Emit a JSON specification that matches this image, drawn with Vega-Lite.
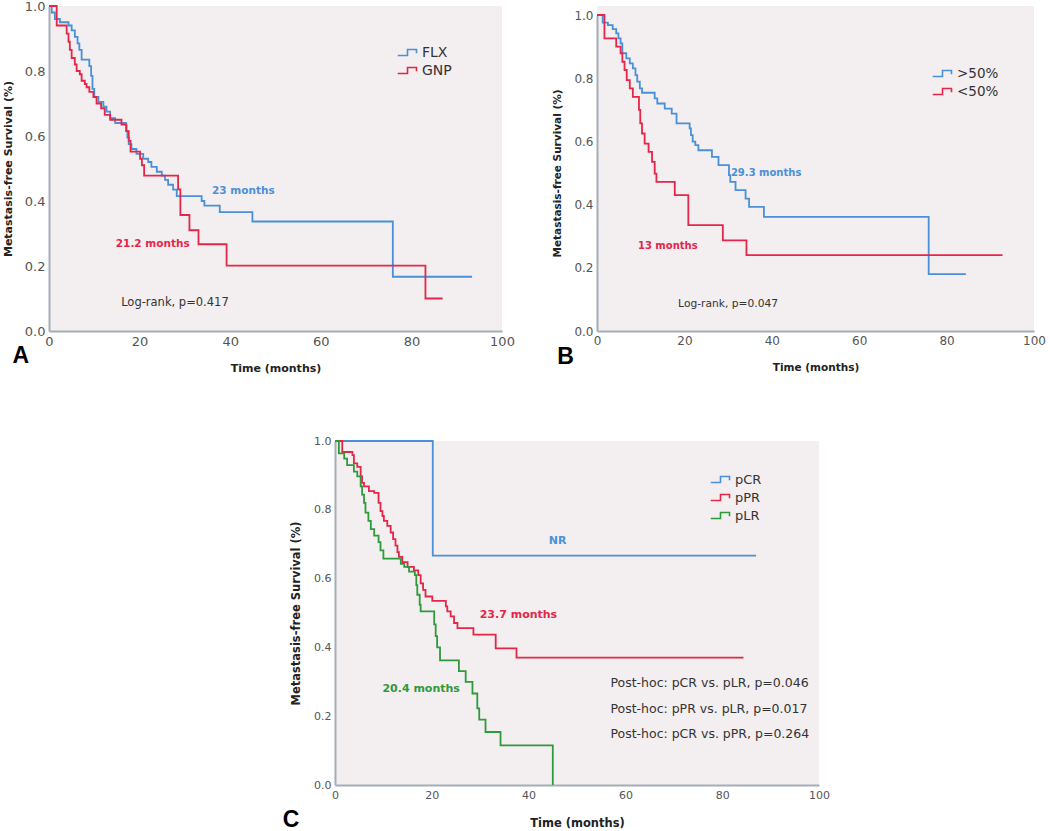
{
  "$schema": "https://vega.github.io/schema/vega-lite/v6.json",
  "padding": {"left": 2, "top": 0, "right": 0, "bottom": 0},
  "background": "white",
  "config": {
    "view": {"stroke": null},
    "axis": {"grid": false, "ticks": false, "domainColor": "#a4aeb8", "domainWidth": 2, "labelFont": "DejaVu Sans", "labelColor": "#555555", "labelFlush": false, "labelOverlap": false, "labelPadding": 4, "titleFont": "DejaVu Sans", "titleFontWeight": "bold", "titleColor": "#222222"},
    "legend": {"title": null, "orient": "none", "padding": 0, "symbolType": "M-1.3,0.4H0V-0.4H1.2V0.1", "symbolSize": 225, "symbolStrokeWidth": 1.6, "labelFont": "DejaVu Sans", "labelColor": "#333333", "labelOffset": 6, "rowPadding": 2}
  },
  "datasets": {
    "curves": [
      {"panel":"A","group":"FLX","t":0,"s":1},{"panel":"A","group":"FLX","t":0.6,"s":0.98},{"panel":"A","group":"FLX","t":1.3,"s":0.96},{"panel":"A","group":"FLX","t":2.4,"s":0.95},{"panel":"A","group":"FLX","t":4.3,"s":0.94},{"panel":"A","group":"FLX","t":5.0,"s":0.925},{"panel":"A","group":"FLX","t":5.7,"s":0.905},{"panel":"A","group":"FLX","t":6.3,"s":0.885},{"panel":"A","group":"FLX","t":6.7,"s":0.865},{"panel":"A","group":"FLX","t":7.2,"s":0.835},{"panel":"A","group":"FLX","t":8.9,"s":0.815},{"panel":"A","group":"FLX","t":9.3,"s":0.785},{"panel":"A","group":"FLX","t":9.6,"s":0.745},{"panel":"A","group":"FLX","t":10.0,"s":0.72},{"panel":"A","group":"FLX","t":10.9,"s":0.705},{"panel":"A","group":"FLX","t":12.0,"s":0.69},{"panel":"A","group":"FLX","t":12.7,"s":0.675},{"panel":"A","group":"FLX","t":13.5,"s":0.655},{"panel":"A","group":"FLX","t":14.6,"s":0.64},{"panel":"A","group":"FLX","t":17.0,"s":0.615},{"panel":"A","group":"FLX","t":17.3,"s":0.595},{"panel":"A","group":"FLX","t":17.6,"s":0.575},{"panel":"A","group":"FLX","t":18.2,"s":0.56},{"panel":"A","group":"FLX","t":19.3,"s":0.545},{"panel":"A","group":"FLX","t":20.8,"s":0.53},{"panel":"A","group":"FLX","t":21.9,"s":0.52},{"panel":"A","group":"FLX","t":22.6,"s":0.505},{"panel":"A","group":"FLX","t":23.8,"s":0.49},{"panel":"A","group":"FLX","t":24.9,"s":0.478},{"panel":"A","group":"FLX","t":25.6,"s":0.465},{"panel":"A","group":"FLX","t":26.3,"s":0.45},{"panel":"A","group":"FLX","t":27.4,"s":0.435},{"panel":"A","group":"FLX","t":28.2,"s":0.415},{"panel":"A","group":"FLX","t":33.7,"s":0.4},{"panel":"A","group":"FLX","t":34.3,"s":0.386},{"panel":"A","group":"FLX","t":37.7,"s":0.366},{"panel":"A","group":"FLX","t":44.9,"s":0.337},{"panel":"A","group":"FLX","t":75.9,"s":0.167},{"panel":"A","group":"FLX","t":93.4,"s":0.167},
      {"panel":"A","group":"GNP","t":0,"s":1},{"panel":"A","group":"GNP","t":1.7,"s":0.94},{"panel":"A","group":"GNP","t":3.9,"s":0.915},{"panel":"A","group":"GNP","t":4.3,"s":0.89},{"panel":"A","group":"GNP","t":4.6,"s":0.865},{"panel":"A","group":"GNP","t":5.0,"s":0.84},{"panel":"A","group":"GNP","t":5.7,"s":0.82},{"panel":"A","group":"GNP","t":6.1,"s":0.8},{"panel":"A","group":"GNP","t":6.8,"s":0.79},{"panel":"A","group":"GNP","t":7.2,"s":0.77},{"panel":"A","group":"GNP","t":7.9,"s":0.76},{"panel":"A","group":"GNP","t":8.3,"s":0.75},{"panel":"A","group":"GNP","t":8.9,"s":0.736},{"panel":"A","group":"GNP","t":9.8,"s":0.72},{"panel":"A","group":"GNP","t":10.5,"s":0.7},{"panel":"A","group":"GNP","t":11.5,"s":0.685},{"panel":"A","group":"GNP","t":12.3,"s":0.665},{"panel":"A","group":"GNP","t":13.5,"s":0.65},{"panel":"A","group":"GNP","t":16.0,"s":0.635},{"panel":"A","group":"GNP","t":17.1,"s":0.615},{"panel":"A","group":"GNP","t":17.6,"s":0.585},{"panel":"A","group":"GNP","t":18.0,"s":0.552},{"panel":"A","group":"GNP","t":20.1,"s":0.53},{"panel":"A","group":"GNP","t":20.5,"s":0.51},{"panel":"A","group":"GNP","t":21.0,"s":0.478},{"panel":"A","group":"GNP","t":28.5,"s":0.436},{"panel":"A","group":"GNP","t":29.0,"s":0.357},{"panel":"A","group":"GNP","t":31.0,"s":0.31},{"panel":"A","group":"GNP","t":33.0,"s":0.267},{"panel":"A","group":"GNP","t":39.2,"s":0.201},{"panel":"A","group":"GNP","t":83.1,"s":0.1},{"panel":"A","group":"GNP","t":86.9,"s":0.1},
      {"panel":"B","group":">50%","t":0,"s":1},{"panel":"B","group":">50%","t":1.3,"s":0.976},{"panel":"B","group":">50%","t":2.5,"s":0.968},{"panel":"B","group":">50%","t":3.6,"s":0.955},{"panel":"B","group":">50%","t":4.4,"s":0.942},{"panel":"B","group":">50%","t":4.9,"s":0.926},{"panel":"B","group":">50%","t":5.4,"s":0.91},{"panel":"B","group":">50%","t":5.8,"s":0.879},{"panel":"B","group":">50%","t":6.7,"s":0.863},{"panel":"B","group":">50%","t":7.5,"s":0.847},{"panel":"B","group":">50%","t":8.2,"s":0.831},{"panel":"B","group":">50%","t":8.8,"s":0.81},{"panel":"B","group":">50%","t":9.2,"s":0.789},{"panel":"B","group":">50%","t":9.8,"s":0.768},{"panel":"B","group":">50%","t":10.3,"s":0.754},{"panel":"B","group":">50%","t":13.2,"s":0.736},{"panel":"B","group":">50%","t":13.8,"s":0.72},{"panel":"B","group":">50%","t":15.5,"s":0.704},{"panel":"B","group":">50%","t":17.1,"s":0.688},{"panel":"B","group":">50%","t":18.2,"s":0.657},{"panel":"B","group":">50%","t":21.2,"s":0.641},{"panel":"B","group":">50%","t":21.5,"s":0.62},{"panel":"B","group":">50%","t":21.9,"s":0.599},{"panel":"B","group":">50%","t":22.5,"s":0.588},{"panel":"B","group":">50%","t":23.2,"s":0.572},{"panel":"B","group":">50%","t":26.3,"s":0.551},{"panel":"B","group":">50%","t":27.8,"s":0.525},{"panel":"B","group":">50%","t":30.2,"s":0.493},{"panel":"B","group":">50%","t":30.5,"s":0.472},{"panel":"B","group":">50%","t":31.7,"s":0.446},{"panel":"B","group":">50%","t":34.0,"s":0.419},{"panel":"B","group":">50%","t":34.8,"s":0.393},{"panel":"B","group":">50%","t":38.2,"s":0.361},{"panel":"B","group":">50%","t":75.9,"s":0.18},{"panel":"B","group":">50%","t":84.4,"s":0.18},
      {"panel":"B","group":"<50%","t":0,"s":1},{"panel":"B","group":"<50%","t":1.7,"s":0.926},{"panel":"B","group":"<50%","t":4.4,"s":0.9},{"panel":"B","group":"<50%","t":5.4,"s":0.879},{"panel":"B","group":"<50%","t":5.8,"s":0.852},{"panel":"B","group":"<50%","t":6.3,"s":0.826},{"panel":"B","group":"<50%","t":6.8,"s":0.794},{"panel":"B","group":"<50%","t":7.5,"s":0.768},{"panel":"B","group":"<50%","t":8.2,"s":0.741},{"panel":"B","group":"<50%","t":9.6,"s":0.7},{"panel":"B","group":"<50%","t":9.9,"s":0.657},{"panel":"B","group":"<50%","t":10.3,"s":0.625},{"panel":"B","group":"<50%","t":10.9,"s":0.593},{"panel":"B","group":"<50%","t":11.8,"s":0.567},{"panel":"B","group":"<50%","t":12.6,"s":0.535},{"panel":"B","group":"<50%","t":13.2,"s":0.498},{"panel":"B","group":"<50%","t":13.6,"s":0.472},{"panel":"B","group":"<50%","t":17.8,"s":0.43},{"panel":"B","group":"<50%","t":20.9,"s":0.335},{"panel":"B","group":"<50%","t":28.8,"s":0.287},{"panel":"B","group":"<50%","t":34.2,"s":0.24},{"panel":"B","group":"<50%","t":92.8,"s":0.24},
      {"panel":"C","group":"pCR","t":0,"s":1},{"panel":"C","group":"pCR","t":20.2,"s":0.667},{"panel":"C","group":"pCR","t":87.0,"s":0.667},
      {"panel":"C","group":"pPR","t":0,"s":1},{"panel":"C","group":"pPR","t":1.5,"s":0.968},{"panel":"C","group":"pPR","t":3.6,"s":0.959},{"panel":"C","group":"pPR","t":3.9,"s":0.935},{"panel":"C","group":"pPR","t":4.6,"s":0.925},{"panel":"C","group":"pPR","t":5.3,"s":0.897},{"panel":"C","group":"pPR","t":5.6,"s":0.878},{"panel":"C","group":"pPR","t":6.0,"s":0.868},{"panel":"C","group":"pPR","t":7.0,"s":0.854},{"panel":"C","group":"pPR","t":8.1,"s":0.849},{"panel":"C","group":"pPR","t":9.0,"s":0.82},{"panel":"C","group":"pPR","t":9.4,"s":0.796},{"panel":"C","group":"pPR","t":9.8,"s":0.782},{"panel":"C","group":"pPR","t":10.1,"s":0.768},{"panel":"C","group":"pPR","t":10.8,"s":0.753},{"panel":"C","group":"pPR","t":11.5,"s":0.734},{"panel":"C","group":"pPR","t":12.0,"s":0.715},{"panel":"C","group":"pPR","t":12.5,"s":0.696},{"panel":"C","group":"pPR","t":12.9,"s":0.677},{"panel":"C","group":"pPR","t":13.2,"s":0.663},{"panel":"C","group":"pPR","t":13.9,"s":0.648},{"panel":"C","group":"pPR","t":15.0,"s":0.634},{"panel":"C","group":"pPR","t":16.3,"s":0.624},{"panel":"C","group":"pPR","t":17.2,"s":0.61},{"panel":"C","group":"pPR","t":17.7,"s":0.586},{"panel":"C","group":"pPR","t":18.2,"s":0.567},{"panel":"C","group":"pPR","t":18.7,"s":0.548},{"panel":"C","group":"pPR","t":20.1,"s":0.535},{"panel":"C","group":"pPR","t":22.9,"s":0.519},{"panel":"C","group":"pPR","t":23.2,"s":0.505},{"panel":"C","group":"pPR","t":23.9,"s":0.49},{"panel":"C","group":"pPR","t":24.6,"s":0.471},{"panel":"C","group":"pPR","t":25.3,"s":0.456},{"panel":"C","group":"pPR","t":28.6,"s":0.437},{"panel":"C","group":"pPR","t":33.2,"s":0.397},{"panel":"C","group":"pPR","t":37.5,"s":0.37},{"panel":"C","group":"pPR","t":84.4,"s":0.37},
      {"panel":"C","group":"pLR","t":0,"s":1},{"panel":"C","group":"pLR","t":0.8,"s":0.964},{"panel":"C","group":"pLR","t":1.9,"s":0.949},{"panel":"C","group":"pLR","t":2.5,"s":0.93},{"panel":"C","group":"pLR","t":3.9,"s":0.911},{"panel":"C","group":"pLR","t":4.6,"s":0.897},{"panel":"C","group":"pLR","t":5.3,"s":0.868},{"panel":"C","group":"pLR","t":5.6,"s":0.844},{"panel":"C","group":"pLR","t":6.0,"s":0.82},{"panel":"C","group":"pLR","t":6.3,"s":0.792},{"panel":"C","group":"pLR","t":6.9,"s":0.768},{"panel":"C","group":"pLR","t":7.4,"s":0.744},{"panel":"C","group":"pLR","t":8.1,"s":0.725},{"panel":"C","group":"pLR","t":9.0,"s":0.706},{"panel":"C","group":"pLR","t":9.4,"s":0.682},{"panel":"C","group":"pLR","t":10.0,"s":0.658},{"panel":"C","group":"pLR","t":13.6,"s":0.643},{"panel":"C","group":"pLR","t":14.3,"s":0.634},{"panel":"C","group":"pLR","t":15.3,"s":0.62},{"panel":"C","group":"pLR","t":16.5,"s":0.61},{"panel":"C","group":"pLR","t":16.8,"s":0.581},{"panel":"C","group":"pLR","t":17.0,"s":0.553},{"panel":"C","group":"pLR","t":17.5,"s":0.524},{"panel":"C","group":"pLR","t":17.7,"s":0.505},{"panel":"C","group":"pLR","t":20.5,"s":0.467},{"panel":"C","group":"pLR","t":20.8,"s":0.433},{"panel":"C","group":"pLR","t":21.1,"s":0.4},{"panel":"C","group":"pLR","t":21.7,"s":0.362},{"panel":"C","group":"pLR","t":25.6,"s":0.331},{"panel":"C","group":"pLR","t":27.0,"s":0.3},{"panel":"C","group":"pLR","t":28.4,"s":0.266},{"panel":"C","group":"pLR","t":29.4,"s":0.223},{"panel":"C","group":"pLR","t":29.8,"s":0.19},{"panel":"C","group":"pLR","t":31.1,"s":0.154},{"panel":"C","group":"pLR","t":34.2,"s":0.115},{"panel":"C","group":"pLR","t":45.0,"s":0}
    ],
    "notes": [
      {"panel":"A","tone":"blue","t":42.9,"s":0.432,"label":"23 months"},
      {"panel":"A","tone":"red","t":22.9,"s":0.268,"label":"21.2 months"},
      {"panel":"A","tone":"black","t":27.8,"s":0.085,"label":"Log-rank, p=0.417"},
      {"panel":"A","tone":"letter","t":-6.2,"s":-0.077,"label":"A"},
      {"panel":"B","tone":"blue","t":38.7,"s":0.5,"label":"29.3 months"},
      {"panel":"B","tone":"red","t":16.2,"s":0.269,"label":"13 months"},
      {"panel":"B","tone":"black","t":30.0,"s":0.084,"label":"Log-rank, p=0.047"},
      {"panel":"B","tone":"letter","t":-7.2,"s":-0.083,"label":"B"},
      {"panel":"C","tone":"blue","t":46.0,"s":0.71,"label":"NR"},
      {"panel":"C","tone":"red","t":37.9,"s":0.494,"label":"23.7 months"},
      {"panel":"C","tone":"green","t":17.8,"s":0.278,"label":"20.4 months"},
      {"panel":"C","tone":"posthoc","t":56.9,"s":0.296,"label":"Post-hoc: pCR vs. pLR, p=0.046"},
      {"panel":"C","tone":"posthoc","t":56.9,"s":0.221,"label":"Post-hoc: pPR vs. pLR, p=0.017"},
      {"panel":"C","tone":"posthoc","t":56.9,"s":0.149,"label":"Post-hoc: pCR vs. pPR, p=0.264"},
      {"panel":"C","tone":"letter","t":-9.1,"s":-0.102,"label":"C"}
    ]
  },
  "resolve": {"scale": {"color": "independent"}, "legend": {"color": "independent"}},
  "spacing": 62,
  "vconcat": [
    {
      "spacing": 37,
      "resolve": {"scale": {"color": "independent"}, "legend": {"color": "independent"}},
      "hconcat": [
        {
          "width": 453, "height": 325,
          "view": {"fill": "#f3eeef", "stroke": null},
          "encoding": {
            "x": {"field": "t", "type": "quantitative", "scale": {"domain": [0, 100], "nice": false}, "axis": {"values": [0, 20, 40, 60, 80, 100], "title": "Time (months)", "labelFontSize": 13, "titleFontSize": 11, "titlePadding": 14}},
            "y": {"field": "s", "type": "quantitative", "scale": {"domain": [0, 1], "nice": false}, "axis": {"values": [0, 0.2, 0.4, 0.6, 0.8, 1], "format": ".1f", "title": "Metastasis-free Survival (%)", "labelFontSize": 13, "titleFontSize": 11, "titlePadding": 11}}
          },
          "layer": [
            {
              "data": {"name": "curves"},
              "transform": [{"filter": "datum.panel === 'A'"}],
              "mark": {"type": "line", "interpolate": "step-after", "strokeWidth": 1.8},
              "encoding": {
                "color": {"field": "group", "type": "nominal", "scale": {"domain": ["FLX", "GNP"], "range": ["#4a90d9", "#e3264a"]}, "legend": {"legendX": 350, "legendY": 38, "labelFontSize": 14}}
              }
            },
            {
              "data": {"name": "notes"},
              "transform": [{"filter": "datum.panel === 'A' && datum.tone === 'blue'"}],
              "mark": {"type": "text", "color": "#4a90d9", "font": "DejaVu Sans", "fontWeight": "bold", "fontSize": 10.5, "baseline": "middle"},
              "encoding": {"text": {"field": "label"}}
            },
            {
              "data": {"name": "notes"},
              "transform": [{"filter": "datum.panel === 'A' && datum.tone === 'red'"}],
              "mark": {"type": "text", "color": "#e3264a", "font": "DejaVu Sans", "fontWeight": "bold", "fontSize": 10.5, "baseline": "middle"},
              "encoding": {"text": {"field": "label"}}
            },
            {
              "data": {"name": "notes"},
              "transform": [{"filter": "datum.panel === 'A' && datum.tone === 'black'"}],
              "mark": {"type": "text", "color": "#333333", "font": "DejaVu Sans", "fontSize": 11.5, "baseline": "middle"},
              "encoding": {"text": {"field": "label"}}
            },
            {
              "data": {"name": "notes"},
              "transform": [{"filter": "datum.panel === 'A' && datum.tone === 'letter'"}],
              "mark": {"type": "text", "color": "#000000", "font": "Liberation Sans", "fontWeight": "bold", "fontSize": 23, "baseline": "middle"},
              "encoding": {"text": {"field": "label"}}
            }
          ]
        },
        {
          "width": 437, "height": 325,
          "view": {"fill": "#f3eeef", "stroke": null},
          "encoding": {
            "x": {"field": "t", "type": "quantitative", "scale": {"domain": [0, 100], "nice": false}, "axis": {"values": [0, 20, 40, 60, 80, 100], "title": "Time (months)", "labelFontSize": 12, "titleFontSize": 10.5, "titlePadding": 16}},
            "y": {"field": "s", "type": "quantitative", "scale": {"domain": [0, 1], "nice": false, "range": [325, 9]}, "axis": {"values": [0, 0.2, 0.4, 0.6, 0.8, 1], "format": ".1f", "title": "Metastasis-free Survival (%)", "labelFontSize": 12, "titleFontSize": 10.5, "titlePadding": 11}}
          },
          "layer": [
            {
              "data": {"name": "curves"},
              "transform": [{"filter": "datum.panel === 'B'"}],
              "mark": {"type": "line", "interpolate": "step-after", "strokeWidth": 1.8},
              "encoding": {
                "color": {"field": "group", "type": "nominal", "scale": {"domain": [">50%", "<50%"], "range": ["#4a90d9", "#e3264a"]}, "legend": {"legendX": 337, "legendY": 59, "labelFontSize": 13.5, "rowPadding": 3}}
              }
            },
            {
              "data": {"name": "notes"},
              "transform": [{"filter": "datum.panel === 'B' && datum.tone === 'blue'"}],
              "mark": {"type": "text", "color": "#4a90d9", "font": "DejaVu Sans", "fontWeight": "bold", "fontSize": 10, "baseline": "middle"},
              "encoding": {"text": {"field": "label"}}
            },
            {
              "data": {"name": "notes"},
              "transform": [{"filter": "datum.panel === 'B' && datum.tone === 'red'"}],
              "mark": {"type": "text", "color": "#e3264a", "font": "DejaVu Sans", "fontWeight": "bold", "fontSize": 10, "baseline": "middle"},
              "encoding": {"text": {"field": "label"}}
            },
            {
              "data": {"name": "notes"},
              "transform": [{"filter": "datum.panel === 'B' && datum.tone === 'black'"}],
              "mark": {"type": "text", "color": "#333333", "font": "DejaVu Sans", "fontSize": 10.7, "baseline": "middle"},
              "encoding": {"text": {"field": "label"}}
            },
            {
              "data": {"name": "notes"},
              "transform": [{"filter": "datum.panel === 'B' && datum.tone === 'letter'"}],
              "mark": {"type": "text", "color": "#000000", "font": "Liberation Sans", "fontWeight": "bold", "fontSize": 23, "baseline": "middle"},
              "encoding": {"text": {"field": "label"}}
            }
          ]
        }
      ]
    },
    {
      "spacing": 0,
      "resolve": {"scale": {"color": "independent"}, "legend": {"color": "independent"}},
      "hconcat": [
        {
          "width": 233, "height": 10,
          "view": {"fill": null, "stroke": null},
          "data": {"values": []},
          "mark": {"type": "point", "opacity": 0},
          "encoding": {}
        },
        {
          "width": 484, "height": 344,
          "view": {"fill": "#f3eeef", "stroke": null},
          "encoding": {
            "x": {"field": "t", "type": "quantitative", "scale": {"domain": [0, 100], "nice": false}, "axis": {"values": [0, 20, 40, 60, 80, 100], "title": "Time (months)", "labelFontSize": 11, "titleFontSize": 11.5, "titlePadding": 17}},
            "y": {"field": "s", "type": "quantitative", "scale": {"domain": [0, 1], "nice": false}, "axis": {"values": [0, 0.2, 0.4, 0.6, 0.8, 1], "format": ".1f", "title": "Metastasis-free Survival (%)", "labelFontSize": 11, "titleFontSize": 11.5, "titlePadding": 12}}
          },
          "layer": [
            {
              "data": {"name": "curves"},
              "transform": [{"filter": "datum.panel === 'C'"}],
              "mark": {"type": "line", "interpolate": "step-after", "strokeWidth": 1.8},
              "encoding": {
                "color": {"field": "group", "type": "nominal", "scale": {"domain": ["pCR", "pPR", "pLR"], "range": ["#4a90d9", "#e3264a", "#2f9a3c"]}, "legend": {"legendX": 377, "legendY": 30, "labelFontSize": 13}}
              }
            },
            {
              "data": {"name": "notes"},
              "transform": [{"filter": "datum.panel === 'C' && datum.tone === 'blue'"}],
              "mark": {"type": "text", "color": "#4a90d9", "font": "DejaVu Sans", "fontWeight": "bold", "fontSize": 11, "baseline": "middle"},
              "encoding": {"text": {"field": "label"}}
            },
            {
              "data": {"name": "notes"},
              "transform": [{"filter": "datum.panel === 'C' && datum.tone === 'red'"}],
              "mark": {"type": "text", "color": "#e3264a", "font": "DejaVu Sans", "fontWeight": "bold", "fontSize": 11, "baseline": "middle"},
              "encoding": {"text": {"field": "label"}}
            },
            {
              "data": {"name": "notes"},
              "transform": [{"filter": "datum.panel === 'C' && datum.tone === 'green'"}],
              "mark": {"type": "text", "color": "#2f9a3c", "font": "DejaVu Sans", "fontWeight": "bold", "fontSize": 11, "baseline": "middle"},
              "encoding": {"text": {"field": "label"}}
            },
            {
              "data": {"name": "notes"},
              "transform": [{"filter": "datum.panel === 'C' && datum.tone === 'posthoc'"}],
              "mark": {"type": "text", "color": "#333333", "font": "DejaVu Sans", "fontSize": 12.5, "baseline": "middle", "align": "left"},
              "encoding": {"text": {"field": "label"}}
            },
            {
              "data": {"name": "notes"},
              "transform": [{"filter": "datum.panel === 'C' && datum.tone === 'letter'"}],
              "mark": {"type": "text", "color": "#000000", "font": "Liberation Sans", "fontWeight": "bold", "fontSize": 23, "baseline": "middle"},
              "encoding": {"text": {"field": "label"}}
            }
          ]
        }
      ]
    }
  ]
}
